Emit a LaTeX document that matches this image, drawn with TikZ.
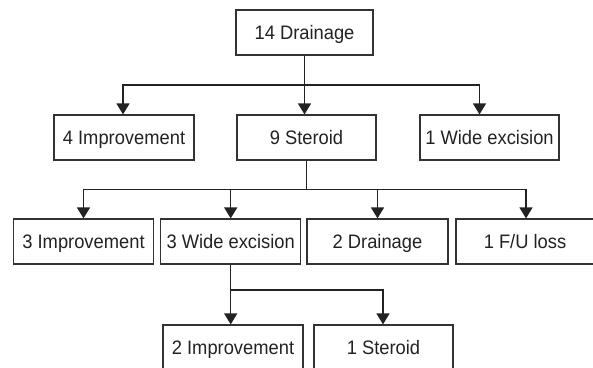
\documentclass[tikz,border=0pt]{standalone}
\usepackage{fontspec}
\setmainfont[FakeStretch=0.94]{Liberation Sans}
\usetikzlibrary{arrows.meta}
\definecolor{ink}{HTML}{222222}
\definecolor{edge}{HTML}{333333}
\begin{document}
\begin{tikzpicture}[x=1pt,y=-1pt,
  box/.style={draw=edge, line width=1.2pt, inner sep=0pt, minimum width=139pt, minimum height=45pt,
    text height=14pt, text depth=0pt,
    font=\fontsize{19.5}{23}\selectfont, text=ink},
  conn/.style={line width=1.4pt, draw=ink},
  arr/.style={conn, -{Triangle[width=13pt,length=11pt]}}]
\useasboundingbox (0,0) rectangle (593,367);
\clip (0,0) rectangle (593,367);
% level 1
\node[box, minimum width=137pt] (a) at (304.5,32.5) {14 Drainage};
% level 2
\node[box, minimum width=140pt] (b1) at (124,137.5) {4 Improvement};
\node[box] (b2) at (306.5,137.5) {9 Steroid};
\node[box] (b3) at (489.5,137.5) {1 Wide excision};
% level 3
\node[box, minimum width=140pt] (c1) at (83.5,241.5) {3 Improvement};
\node[box, minimum width=140pt] (c2) at (230.7,241.5) {3 Wide excision};
\node[box, minimum width=141pt] (c3) at (377.5,241.5) {2 Drainage};
\node[box, minimum width=138pt] (c4) at (525,241.5) {1 F/U loss};
% level 4 (cut off by the lower edge)
\node[box, minimum width=140pt] (d1) at (233,347.5) {2 Improvement};
\node[box, minimum width=139pt] (d2) at (383.5,347.5) {1 Steroid};
% junction levels
\coordinate (h1) at (0,85);
\coordinate (h2) at (0,189.5);
\coordinate (h3) at (0,290);
% level 1 -> level 2
\draw[arr] (a.south) -- (a.south |- b2.north);
\draw[arr] (a.south |- h1) -| ([xshift=-1pt]b1.north);
\draw[arr] (a.south |- h1) -| ([xshift=-10pt]b3.north);
% level 2 -> level 3
\draw[conn] (b2.south) -- (b2.south |- h2);
\draw[arr] (b2.south |- h2) -| (c1.north);
\draw[arr] (b2.south |- h2) -| (c2.north);
\draw[arr] (b2.south |- h2) -| (c3.north);
\draw[arr] (b2.south |- h2) -| ([xshift=1pt]c4.north);
% level 3 -> level 4
\draw[arr] (c2.south) -- (c2.south |- d1.north);
\draw[arr] (c2.south |- h3) -| ([xshift=-0.5pt]d2.north);
\end{tikzpicture}
\end{document}
